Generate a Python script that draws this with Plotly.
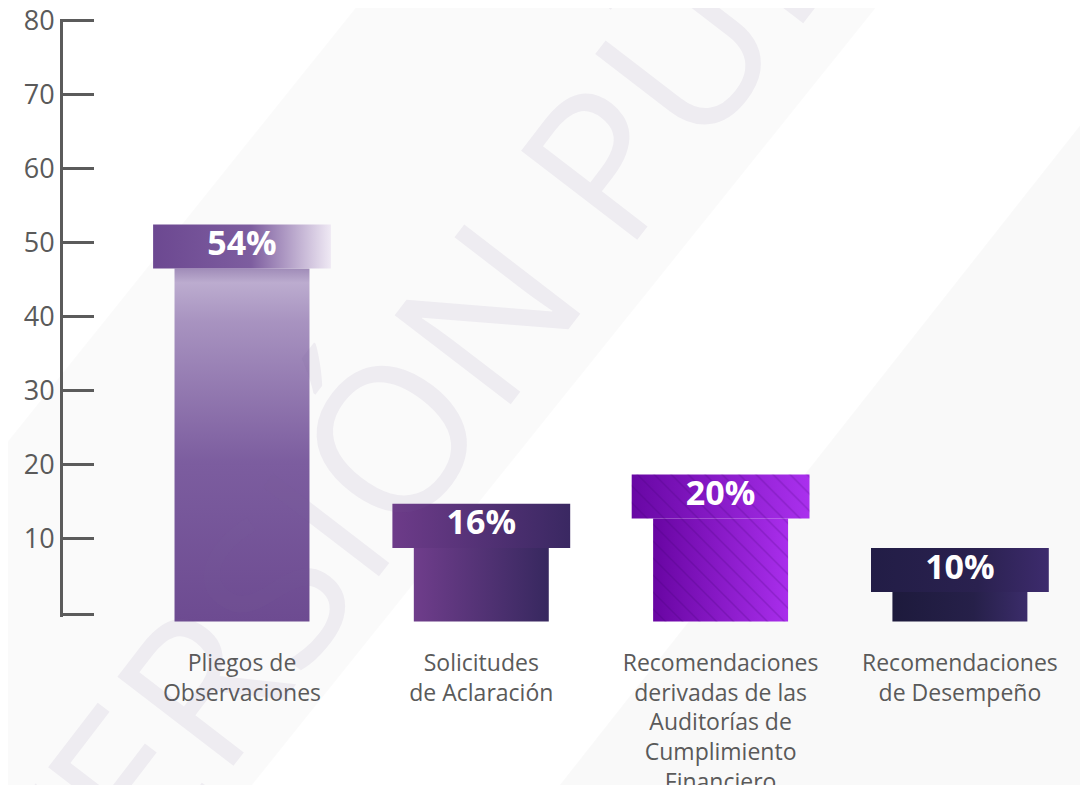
import plotly.graph_objects as go

# ---------------- data ----------------
categories = [
    "Pliegos de<br>Observaciones",
    "Solicitudes<br>de Aclaración",
    "Recomendaciones<br>derivadas de las<br>Auditorías de<br>Cumplimiento<br>Financiero",
    "Recomendaciones<br>de Desempeño",
]
values = [54, 16, 20, 10]
value_labels = ["54%", "16%", "20%", "10%"]
y_tick_values = [10, 20, 30, 40, 50, 60, 70, 80]
y_tick_labels = ["10", "20", "30", "40", "50", "60", "70", "80"]
watermark_text = "VERSIÓN PÚBLICA"

# ---------------- layout geometry ----------------
W, H = 1088, 785
PAGE_OFF = 8                      # page body margin in the browser
REF_LEFT, REF_TOP, REF_BOTTOM = 63, 19, 625   # plot area in screen pixels
ML = REF_LEFT - PAGE_OFF
MT = REF_TOP - PAGE_OFF
MB = H - (REF_BOTTOM - PAGE_OFF)
MR = 0
PW, PH = W - ML - MR, H - MT - MB

C0, STEP = 242, 239.3             # screen x of first category, px per category
X_RANGE = [(REF_LEFT - C0) / STEP, (REF_LEFT + PW - C0) / STEP]

Y_RANGE = [-0.6, 80.15]
Y_BOTTOM_TICK = -0.3

BODY_W = 0.564
CAP_W = 0.743
CAP_H = 6.0

body_grad = [
    dict(type="vertical", colorscale=[[0, "#6d4b91"], [0.45, "#7c5d9f"], [0.85, "#a893c0"], [0.96, "#bcaccf"], [1, "#a08cb8"]]),
    dict(type="horizontal", colorscale=[[0, "#6f3d8b"], [1, "#37285f"]]),
    dict(type="horizontal", colorscale=[[0, "#6805a2"], [1, "#a92eec"]]),
    dict(type="horizontal", colorscale=[[0, "#1d1a3c"], [0.6, "#262049"], [1, "#3b2c6a"]]),
]
cap_grad = [
    dict(type="horizontal", colorscale=[[0, "#6c4891"], [0.55, "#7d5d9f"], [1, "#efe9f4"]]),
    dict(type="horizontal", colorscale=[[0, "#6d3b89"], [1, "#3a2862"]]),
    dict(type="horizontal", colorscale=[[0, "#6807a4"], [1, "#aa30ee"]]),
    dict(type="horizontal", colorscale=[[0, "#221d46"], [0.6, "#2a214f"], [1, "#3d2b6d"]]),
]
striped = [False, False, True, False]

AXIS_COLOR = "#5b5b5b"
TEXT_COLOR = "#5a5a5a"


def rect(cx, w, y0, y1):
    return ([cx - w / 2, cx + w / 2, cx + w / 2, cx - w / 2, cx - w / 2],
            [y0, y0, y1, y1, y0])


fig = go.Figure()

# anchor trace so the main (tick) axis subplot gets drawn
fig.add_trace(go.Scatter(x=[0], y=[0], mode="markers", marker=dict(opacity=0, size=1),
                         xaxis="x", yaxis="y", hoverinfo="skip", showlegend=False))

for i, v in enumerate(values):
    xs, ys = rect(i, BODY_W, 0, v - CAP_H)
    fig.add_trace(go.Scatter(x=xs, y=ys, mode="lines", fill="toself",
                             fillgradient=body_grad[i], line=dict(width=0),
                             xaxis="x", yaxis="y2", hoverinfo="skip", showlegend=False))
    xs, ys = rect(i, CAP_W, v - CAP_H, v)
    fig.add_trace(go.Scatter(x=xs, y=ys, mode="lines", fill="toself",
                             fillgradient=cap_grad[i], line=dict(width=0),
                             xaxis="x", yaxis="y2", hoverinfo="skip", showlegend=False))
    if striped[i]:
        for w, y0, y1 in [(BODY_W, 0, v - CAP_H), (CAP_W, v - CAP_H, v)]:
            xs, ys = rect(i, w, y0, y1)
            fig.add_trace(go.Scatter(x=xs, y=ys, mode="lines", fill="toself",
                                     fillcolor="rgba(0,0,0,0)",
                                     fillpattern=dict(shape="\\", fgcolor="rgba(60,0,110,0.45)",
                                                      bgcolor="rgba(0,0,0,0)", size=12, solidity=0.12),
                                     line=dict(width=0),
                                     xaxis="x", yaxis="y2", hoverinfo="skip", showlegend=False))

fig.add_trace(go.Scatter(
    x=list(range(len(values))),
    y=[v - CAP_H / 2 for v in values],
    text=value_labels, mode="text",
    textfont=dict(family="Open Sans", size=34, color="white", weight=700),
    xaxis="x", yaxis="y2", hoverinfo="skip", showlegend=False,
))


def P(px, py):
    """screen pixel -> paper coordinates"""
    return (px - REF_LEFT) / PW, (REF_BOTTOM - py) / PH


def poly_path(pts):
    s = ""
    for k, (px, py) in enumerate(pts):
        x, y = P(px, py)
        s += ("M" if k == 0 else "L") + f"{x:.4f},{y:.4f} "
    return s + "Z"


shapes = [
    dict(type="path", xref="paper", yref="paper", layer="below", line=dict(width=0),
         fillcolor="rgba(0,0,0,0.018)",
         path=poly_path([(370, -10), (890, -10), (240, 800), (-280, 800)])),
    dict(type="path", xref="paper", yref="paper", layer="below", line=dict(width=0),
         fillcolor="rgba(0,0,0,0.022)",
         path=poly_path([(1100, 100), (1100, 800), (548, 800)])),
]

wx, wy = P(540, 235)
annotations = [
    dict(text=watermark_text, xref="paper", yref="paper", x=wx, y=wy,
         xanchor="center", yanchor="middle", showarrow=False, textangle=-52.5,
         font=dict(family="Open Sans", size=205, color="rgba(125,95,160,0.09)")),
]

# main axis: screen bottom of its domain is at 617 px
y_dom_bottom = (REF_BOTTOM - 617) / PH

fig.update_layout(
    width=W, height=H,
    margin=dict(l=ML, r=MR, t=MT, b=MB, autoexpand=False),
    paper_bgcolor="white", plot_bgcolor="rgba(0,0,0,0)",
    showlegend=False,
    shapes=shapes, annotations=annotations,
    xaxis=dict(range=X_RANGE, tickvals=list(range(len(categories))),
               ticktext=categories, showline=False, showgrid=False, zeroline=False,
               ticks="outside", ticklen=25, tickcolor="rgba(0,0,0,0)",
               tickfont=dict(family="Open Sans", size=23, color=TEXT_COLOR),
               ticklabeloverflow="allow",
               anchor="y", fixedrange=True, automargin=False),
    yaxis=dict(domain=[y_dom_bottom, 1], range=Y_RANGE,
               tickvals=[Y_BOTTOM_TICK] + y_tick_values, ticktext=[""] + y_tick_labels,
               ticks="inside", ticklen=31, tickwidth=3, tickcolor=AXIS_COLOR,
               showline=True, linewidth=3, linecolor=AXIS_COLOR,
               showgrid=False, zeroline=False,
               tickfont=dict(family="Open Sans", size=27, color=TEXT_COLOR),
               ticklabeloverflow="allow",
               anchor="x", fixedrange=True, automargin=False),
    yaxis2=dict(domain=[0, 1], range=[-0.477, 81.95], visible=False,
                anchor="x", fixedrange=True),
)

fig.write_html("out.html")
